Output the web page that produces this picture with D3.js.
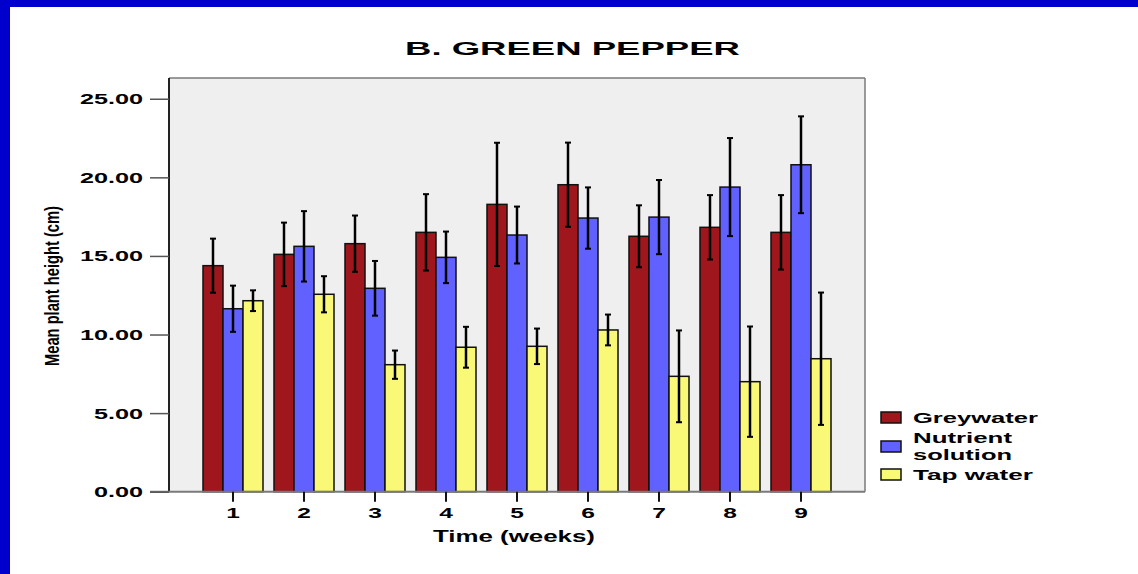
<!DOCTYPE html>
<html>
<head>
<meta charset="utf-8">
<script src="https://cdn.jsdelivr.net/npm/d3@7"></script>
<style>
  body { margin: 0; background: #fff; }
  svg { display: block; font-family: "Liberation Sans", Arial, sans-serif; }
  .tick text { font-weight: bold; font-size: 14px; fill: #000; }
</style>
</head>
<body>
<div id="chart"></div>
<script>
// data
var weeks = ["1", "2", "3", "4", "5", "6", "7", "8", "9"];
var seriesNames = ["Greywater", "Nutrient solution", "Tap water"];
var greywater    = [14.38, 15.10, 15.78, 16.50, 18.28, 19.53, 16.25, 16.82, 16.50];
var greywaterErr = [1.72, 2.02, 1.79, 2.43, 3.92, 2.68, 1.97, 2.05, 2.37];
var nutrient     = [11.64, 15.61, 12.94, 14.91, 16.33, 17.41, 17.47, 19.38, 20.80];
var nutrientErr  = [1.47, 2.24, 1.74, 1.64, 1.81, 1.95, 2.36, 3.12, 3.08];
var tap          = [12.15, 12.56, 8.08, 9.19, 9.25, 10.29, 7.34, 7.00, 8.46];
var tapErr       = [0.66, 1.15, 0.90, 1.30, 1.13, 0.98, 2.92, 3.51, 4.21];
var yTicks = [0, 5, 10, 15, 20, 25];
var colors = ["#9f171d", "#6161ff", "#f9f977"];

var W = 1138, H = 574;
var margin = {top: 78, right: 273, bottom: 82.3, left: 169};
var width = W - margin.left - margin.right,
    height = H - margin.top - margin.bottom;

var svg = d3.select("#chart").append("svg")
    .attr("width", W)
    .attr("height", H);

// blue frame of the slide
svg.append("rect").attr("x", 0).attr("y", 0).attr("width", W).attr("height", 7).attr("fill", "#0000cc");
svg.append("rect").attr("x", 0).attr("y", 0).attr("width", 10).attr("height", H).attr("fill", "#0000cc");

var g = svg.append("g")
    .attr("transform", "translate(" + margin.left + "," + margin.top + ")");

// widen text like the stretched original
function stretch(sel, k) {
  sel.each(function() {
    var w = this.getComputedTextLength();
    d3.select(this).attr("textLength", w * k).attr("lengthAdjust", "spacingAndGlyphs");
  });
}

// scales
var x0 = d3.scaleBand().domain(weeks).range([28.5, width - 28.5]);
var x1 = d3.scaleBand().domain(seriesNames).range([0, 60]);
var y = d3.scaleLinear().domain([0, 26.32]).range([height, 0]);

// plot background
g.append("rect")
  .attr("width", width).attr("height", height)
  .attr("fill", "#efefef");

var rows = weeks.map(function(w, i) {
  return {week: w, vals: [
    {s: seriesNames[0], v: greywater[i], e: greywaterErr[i], c: colors[0]},
    {s: seriesNames[1], v: nutrient[i], e: nutrientErr[i], c: colors[1]},
    {s: seriesNames[2], v: tap[i], e: tapErr[i], c: colors[2]}
  ]};
});

var off = (x0.bandwidth() - 60) / 2;

var groups = g.selectAll(".grp").data(rows).enter().append("g")
    .attr("class", "grp")
    .attr("transform", function(d) { return "translate(" + (x0(d.week) + off) + ",0)"; });

groups.selectAll("rect").data(function(d) { return d.vals; }).enter().append("rect")
    .attr("x", function(d) { return x1(d.s); })
    .attr("y", function(d) { return y(d.v); })
    .attr("width", x1.bandwidth())
    .attr("height", function(d) { return height - y(d.v); })
    .attr("fill", function(d) { return d.c; })
    .attr("stroke", "#111")
    .attr("stroke-width", 1.5);

// error bars
var eb = groups.selectAll(".err").data(function(d) { return d.vals; }).enter().append("g")
    .attr("class", "err")
    .attr("stroke", "#000");
eb.append("line")
    .attr("x1", function(d) { return x1(d.s) + x1.bandwidth() / 2; })
    .attr("x2", function(d) { return x1(d.s) + x1.bandwidth() / 2; })
    .attr("y1", function(d) { return y(d.v + d.e); })
    .attr("y2", function(d) { return y(d.v - d.e); })
    .attr("stroke-width", 2.5);
eb.selectAll(".cap").data(function(d) { return [d.v + d.e, d.v - d.e].map(function(v) { return {v: v, d: d}; }); })
  .enter().append("line")
    .attr("x1", function(c) { return x1(c.d.s) + x1.bandwidth() / 2 - 3; })
    .attr("x2", function(c) { return x1(c.d.s) + x1.bandwidth() / 2 + 3; })
    .attr("y1", function(c) { return y(c.v); })
    .attr("y2", function(c) { return y(c.v); })
    .attr("stroke-width", 2);

// frame
g.append("line").attr("x1", 0).attr("x2", width).attr("y1", 0).attr("y2", 0).attr("stroke", "#7a7a7a").attr("stroke-width", 1.5);
g.append("line").attr("x1", width).attr("x2", width).attr("y1", 0).attr("y2", height).attr("stroke", "#7a7a7a").attr("stroke-width", 1.5);
g.append("line").attr("x1", 0).attr("x2", 0).attr("y1", 0).attr("y2", height).attr("stroke", "#222").attr("stroke-width", 2);
g.append("line").attr("x1", -19).attr("x2", width).attr("y1", height).attr("y2", height).attr("stroke", "#7a7a7a").attr("stroke-width", 2);

// axes
var yAxis = d3.axisLeft(y).tickValues(yTicks).tickFormat(d3.format(".2f")).tickSize(19).tickPadding(7);
var yGroup = g.append("g").attr("class", "axis axis--y").call(yAxis);
yGroup.select(".domain").remove();
yGroup.selectAll(".tick line").attr("stroke", "#555").attr("stroke-width", 1.5);
yGroup.selectAll(".tick text").attr("dy", "0.36em").call(stretch, 1.8);

var xAxis = d3.axisBottom(x0).tickSize(10).tickPadding(6);
var xGroup = g.append("g").attr("class", "axis axis--x")
    .attr("transform", "translate(0," + height + ")")
    .call(xAxis);
xGroup.select(".domain").remove();
xGroup.selectAll(".tick line").attr("stroke", "#111").attr("stroke-width", 2);
xGroup.selectAll(".tick text").attr("dy", "0.75em").call(stretch, 1.75);

// title and axis labels
svg.append("text")
    .attr("x", 572.5).attr("y", 55)
    .attr("text-anchor", "middle")
    .attr("font-size", "18.5px").attr("font-weight", "bold")
    .attr("textLength", 335).attr("lengthAdjust", "spacingAndGlyphs")
    .text("B. GREEN PEPPER");

svg.append("text")
    .attr("x", 514).attr("y", 541.5)
    .attr("text-anchor", "middle")
    .attr("font-size", "16px").attr("font-weight", "bold")
    .attr("textLength", 162).attr("lengthAdjust", "spacingAndGlyphs")
    .text("Time (weeks)");

svg.append("text")
    .attr("transform", "translate(59,286)rotate(-90)")
    .attr("text-anchor", "middle")
    .attr("font-size", "21px").attr("font-weight", "bold")
    .attr("textLength", 160).attr("lengthAdjust", "spacingAndGlyphs")
    .text("Mean plant height (cm)");

// legend
var legend = svg.append("g").attr("transform", "translate(881,412)");
var legRows = [
  {lines: ["Greywater"], widths: [125], dy: 0},
  {lines: ["Nutrient", "solution"], widths: [99, 99], dy: 29},
  {lines: ["Tap water"], widths: [120], dy: 57}
];
legRows.forEach(function(r, i) {
  legend.append("rect")
    .attr("x", 0).attr("y", r.dy)
    .attr("width", 20).attr("height", 11)
    .attr("fill", colors[i]).attr("stroke", "#111").attr("stroke-width", 1.5);
  r.lines.forEach(function(t, j) {
    legend.append("text")
      .attr("x", 32)
      .attr("y", r.lines.length > 1 ? r.dy + 2 + j * 17 : r.dy + 11)
      .attr("font-size", "15.5px").attr("font-weight", "bold")
      .attr("textLength", r.widths[j]).attr("lengthAdjust", "spacingAndGlyphs")
      .text(t);
  });
});
</script>
</body>
</html>
